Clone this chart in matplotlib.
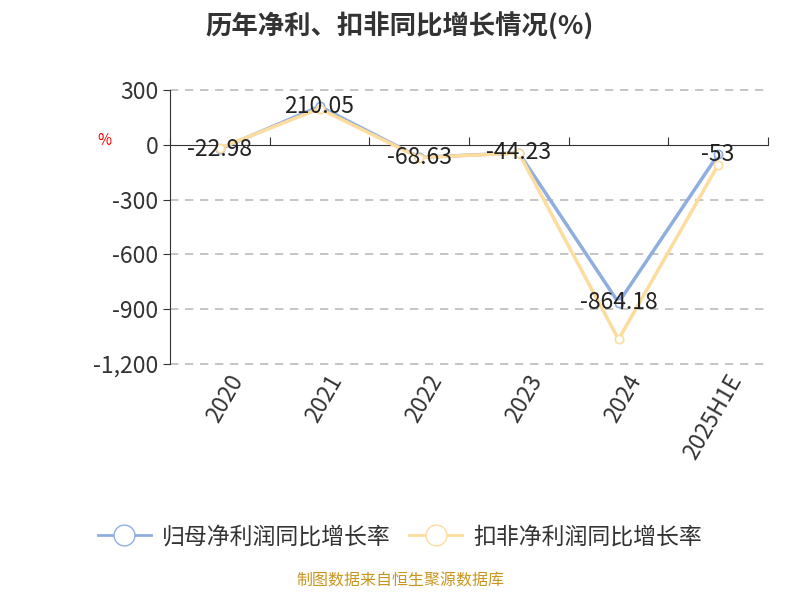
import matplotlib
matplotlib.use("Agg")
import matplotlib.pyplot as plt

plt.rcParams['font.family'] = ['Noto Sans CJK SC', 'DejaVu Sans']

categories = ['2020', '2021', '2022', '2023', '2024', '2025H1E']
net_growth = [-22.98, 210.05, -68.63, -44.23, -864.18, -53]
deduct_growth = [-18, 198, -70, -45, -1065, -110]
yticks = [300, 0, -300, -600, -900, -1200]
ytick_labels = ['300', '0', '-300', '-600', '-900', '-1,200']

fig = plt.figure(figsize=(8, 6), dpi=100)
ax = fig.add_axes([0.2125, 0.3933, 0.7475, 0.4567])
x = list(range(len(categories)))
c1, c2 = '#8eaee0', '#fddc9e'
ax.plot(x, net_growth, color=c1, lw=2.5, marker='o', ms=6, mfc='white', mec=c1, mew=1.2, zorder=3)
ax.plot(x, deduct_growth, color=c2, lw=2.5, marker='o', ms=6, mfc='white', mec=c2, mew=1.2, zorder=4)
for xi, v in zip(x, net_growth):
    ax.text(xi, v, f'{v:g}', ha='center', va='center', fontsize=16.5, color='#222222', zorder=5)

ax.set_xlim(-0.5, 5.5)
ax.set_ylim(-1200, 300)
ax.set_yticks(yticks)
ax.set_yticklabels(ytick_labels, fontsize=16.5, color='#333333')
for y in yticks:
    if y != 0:
        ax.axhline(y, color='#bbbbbb', ls=(0, (5, 4)), lw=1.2, zorder=1, clip_on=False)
ax.spines['top'].set_visible(False)
ax.spines['right'].set_visible(False)
ax.spines['bottom'].set_position(('data', 0))
ax.spines['bottom'].set_color('#333333')
ax.spines['left'].set_color('#333333')
ax.set_xticks([i - 0.5 for i in range(7)], minor=False)
ax.set_xticklabels([])
ax.tick_params(axis='x', direction='in', length=6, color='#333333')
ax.tick_params(axis='y', length=5, color='#333333')
for xi, c in zip(x, categories):
    ax.text(xi + 0.08, -1235, c, rotation=60, ha='right', va='top', fontsize=16.5,
            color='#333333', rotation_mode='anchor')
ax.text(-0.11, 0.8, '%', transform=ax.transAxes, color='red', fontsize=11, ha='center')

fig.text(0.5, 0.955, '历年净利、扣非同比增长情况(%)', ha='center', va='center',
         fontsize=19, fontweight='bold', color='#333333')
from matplotlib.lines import Line2D
h = [Line2D([], [], color=c1, lw=2, marker='o', ms=15, mfc='white', mec=c1),
     Line2D([], [], color=c2, lw=2, marker='o', ms=15, mfc='white', mec=c2)]
fig.legend(h, ['归母净利润同比增长率', '扣非净利润同比增长率'], loc='center',
           bbox_to_anchor=(0.5, 0.105), ncol=2, frameon=False, fontsize=16.5,
           handlelength=2.3, columnspacing=0.8, handletextpad=0.5, labelcolor='#333333')
fig.text(0.5, 0.018, '制图数据来自恒生聚源数据库', ha='center', va='bottom', fontsize=11.5, color='#c8961e')
fig.savefig('out.png', dpi=100)
